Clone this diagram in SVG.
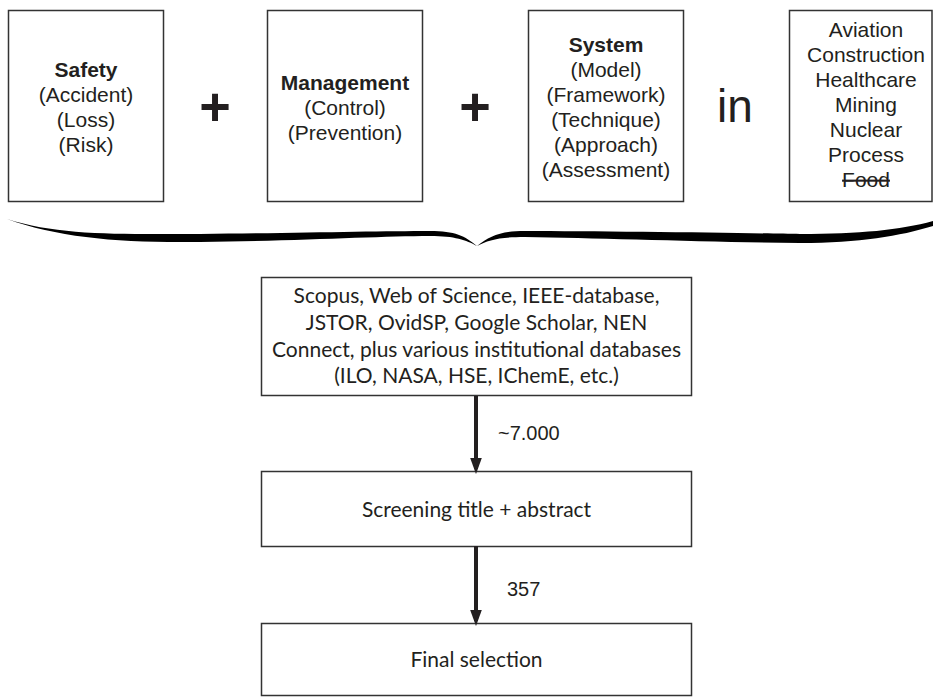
<svg xmlns="http://www.w3.org/2000/svg" width="933" height="697" viewBox="0 0 933 697">
<defs>
<style>
.box{fill:#fff;stroke:#333;stroke-width:1.5}
.t{font-family:"Liberation Sans",Arial,sans-serif;font-size:21px;fill:#231f20;text-anchor:middle}
.b{font-weight:bold}
.c{font-family:Lato,"Open Sans",sans-serif;font-size:21px;fill:#231f20;text-anchor:middle}
.lbl{font-family:"Liberation Sans",Arial,sans-serif;font-size:20px;fill:#231f20}
.big{font-family:"Liberation Sans",Arial,sans-serif;fill:#231f20;text-anchor:middle}
.arr{stroke:#231f20;stroke-width:4;fill:none}
</style>
<marker id="ah" markerUnits="userSpaceOnUse" markerWidth="16" markerHeight="22" refX="15" refY="8" orient="auto" viewBox="0 0 22 16">
<path d="M0,0 L22,8 L0,16 Z" fill="#231f20"/>
</marker>
</defs>
<rect width="933" height="697" fill="#fff"/>

<g id="safety">
<rect class="box" x="8.5" y="10.5" width="155" height="191"/>
<text class="t b" x="86" y="77">Safety</text>
<text class="t" x="86" y="102">(Accident)</text>
<text class="t" x="86" y="127">(Loss)</text>
<text class="t" x="86" y="152">(Risk)</text>
</g>

<text class="big b" x="215" y="125" font-size="54">+</text>

<g id="management">
<rect class="box" x="267.5" y="10.5" width="155" height="191"/>
<text class="t b" x="345" y="90">Management</text>
<text class="t" x="345" y="115">(Control)</text>
<text class="t" x="345" y="140">(Prevention)</text>
</g>

<text class="big b" x="475" y="125" font-size="54">+</text>

<g id="system">
<rect class="box" x="528.5" y="10.5" width="155" height="191"/>
<text class="t b" x="606" y="52">System</text>
<text class="t" x="606" y="77">(Model)</text>
<text class="t" x="606" y="102">(Framework)</text>
<text class="t" x="606" y="127">(Technique)</text>
<text class="t" x="606" y="152">(Approach)</text>
<text class="t" x="606" y="177">(Assessment)</text>
</g>

<text class="big" x="735" y="122" font-size="46">in</text>

<g id="domains">
<rect class="box" x="789.5" y="10.5" width="142.5" height="191"/>
<text class="t" x="866" y="37">Aviation</text>
<text class="t" x="866" y="62">Construction</text>
<text class="t" x="866" y="87">Healthcare</text>
<text class="t" x="866" y="112">Mining</text>
<text class="t" x="866" y="137">Nuclear</text>
<text class="t" x="866" y="162">Process</text>
<text class="t" x="866" y="187" text-decoration="line-through">Food</text>
</g>

<g id="brace">
<path fill="#000" d="M7,219 C60,236 120,234 200,234 C300,233 380,231 430,231 C455,231 465,236 477,246 C490,236 500,231 525,231 C600,231 750,233 800,234 C860,234 900,230 933,221 L933,226 C900,236 860,243 800,243 C700,242 600,238 525,237 C500,237 488,240 477,246 C466,240 455,236 430,236 C380,236 300,241 200,242 C120,243 60,238 7,219 Z"/>
</g>

<g id="databases">
<rect class="box" x="261.5" y="277.5" width="430" height="118"/>
<text class="c" x="476.5" y="303">Scopus, Web of Science, IEEE-database,</text>
<text class="c" x="476.5" y="330">JSTOR, OvidSP, Google Scholar, NEN</text>
<text class="c" x="476.5" y="357">Connect, plus various institutional databases</text>
<text class="c" x="476.5" y="383">(ILO, NASA, HSE, IChemE, etc.)</text>
</g>

<g id="screening">
<rect class="box" x="261.5" y="471.5" width="430" height="75"/>
<text class="c" x="476.5" y="517">Screening title + abstract</text>
</g>

<g id="final">
<rect class="box" x="261.5" y="623.5" width="430" height="72"/>
<text class="c" x="476.5" y="667">Final selection</text>
</g>

<g id="connectors">
<line class="arr" x1="476" y1="396" x2="476" y2="469" marker-end="url(#ah)"/>
<line class="arr" x1="476" y1="546" x2="476" y2="621" marker-end="url(#ah)"/>
<text class="lbl" x="498" y="440">~7.000</text>
<text class="lbl" x="507" y="596">357</text>
</g>
</svg>
